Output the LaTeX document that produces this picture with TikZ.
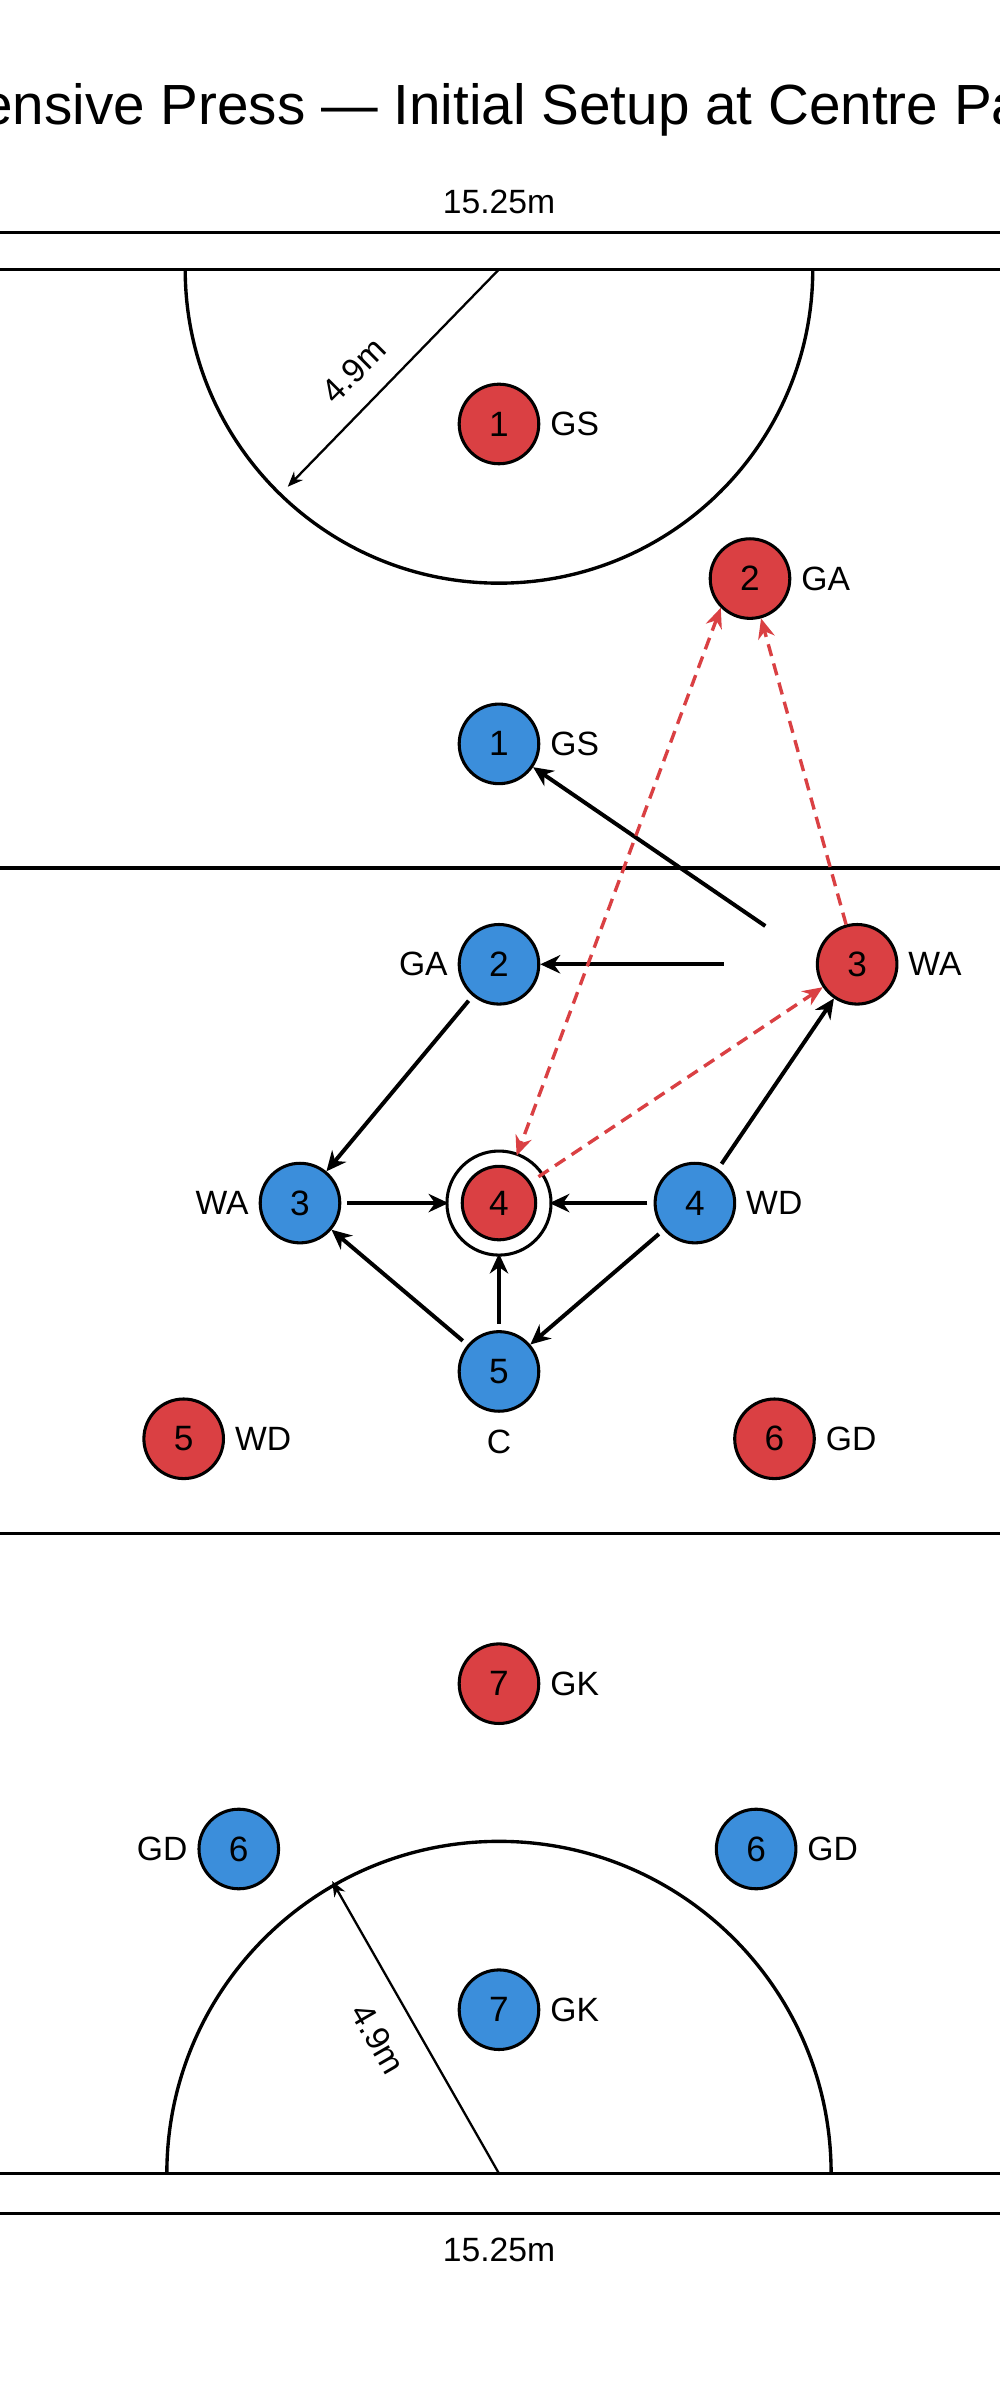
\documentclass[tikz,border=0pt]{standalone}
\usepackage{fontspec}
\setmainfont{Liberation Sans}
\usetikzlibrary{arrows.meta}
\definecolor{pred}{HTML}{DA4043}
\definecolor{pblue}{HTML}{3B8EDB}
\begin{document}
\begin{tikzpicture}[x=1pt,y=-1pt,
  line/.style={line width=2.2pt},
  pl/.style={circle,draw=black,line width=2pt,minimum size=52pt,inner sep=0pt,font=\fontsize{23}{25}\selectfont},
  R/.style={pl,fill=pred},
  B/.style={pl,fill=pblue},
  lab/.style={font=\fontsize{22}{24}\selectfont},
  arr/.style={line width=2.6pt,-{Stealth[length=13pt,width=12pt]}},
  rarr/.style={line width=2.2pt,pred,dash pattern=on 8pt off 5pt,-{Stealth[length=13pt,width=11pt]}}]
\useasboundingbox (0,0) rectangle (653,1568);
\fill[white] (0,0) rectangle (653,1568);
\node[font=\fontsize{37}{40}\selectfont] (title) at (318,72) {Defensive Press — Initial Setup at Centre Pass};
\node[lab] (wt) at (326,132) {15.25m};
\node[lab] (wb) at (326,1470) {15.25m};
\draw[line] (-5,152) -- (660,152);
\draw[line] (-5,176) -- (660,176);
\draw[line] (-5,567) -- (660,567);
\draw[line] (-5,1002) -- (660,1002);
\draw[line] (-5,1420) -- (660,1420);
\draw[line] (-5,1446) -- (660,1446);
\draw[line] (121,176) arc[start angle=180,end angle=360,x radius=205,y radius=-205];
\draw[line] (109,1420) arc[start angle=180,end angle=0,x radius=217,y radius=-217];
\coordinate (ct) at (326,176);
\coordinate (rt) at (188,318);
\draw[line width=1.5pt,-{Stealth[length=10pt,width=8pt]}] (ct) -- (rt);
\node[lab,rotate=45] (r1) at (231,242) {4.9m};
\coordinate (cb) at (326,1420);
\coordinate (rb) at (217,1229);
\draw[line width=1.5pt,-{Stealth[length=10pt,width=8pt]}] (cb) -- (rb);
\node[lab,rotate=-60] (r2) at (247,1332) {4.9m};
% players
\node[R] (r1p) at (326,277) {1}; \node[lab,anchor=west] at (356,277) {GS};
\node[R] (r2p) at (490,378) {2}; \node[lab,anchor=west] at (520,378) {GA};
\node[B] (b1) at (326,486) {1}; \node[lab,anchor=west] at (356,486) {GS};
\node[B] (b2) at (326,630) {2}; \node[lab,anchor=east] at (296,630) {GA};
\node[R] (r3) at (560,630) {3}; \node[lab,anchor=west] at (590,630) {WA};
\node[B] (b3) at (196,786) {3}; \node[lab,anchor=east] at (166,786) {WA};
\node[R,minimum size=48pt] (r4) at (326,786) {4};
\draw[line width=2pt] (r4) circle (34pt);
\node[B] (b4) at (454,786) {4}; \node[lab,anchor=west] at (484,786) {WD};
\node[B] (b5) at (326,896) {5}; \node[lab] at (326,942) {C};
\node[R] (r5) at (120,940) {5}; \node[lab,anchor=west] at (150,940) {WD};
\node[R] (r6) at (506,940) {6}; \node[lab,anchor=west] at (536,940) {GD};
\node[R] (r7) at (326,1100) {7}; \node[lab,anchor=west] at (356,1100) {GK};
\node[B] (b6a) at (156,1208) {6}; \node[lab,anchor=east] at (126,1208) {GD};
\node[B] (b6b) at (494,1208) {6}; \node[lab,anchor=west] at (524,1208) {GD};
\node[B] (b7) at (326,1313) {7}; \node[lab,anchor=west] at (356,1313) {GK};
% arrows
\coordinate (s1) at (500,605);
\coordinate (s2) at (473,630);
\draw[arr] (s1) -- (b1);
\draw[arr] (s2) -- (b2);
\draw[arr,shorten <=4pt] (b2) -- (b3);
\draw[arr,shorten <=4pt,shorten >=8pt] (b3) -- (r4);
\draw[arr,shorten <=4pt,shorten >=8pt] (b4) -- (r4);
\draw[arr,shorten <=4pt,shorten >=8pt] (b5) -- (r4);
\draw[arr,shorten <=4pt] (b5) -- (b3);
\draw[arr,shorten <=4pt] (b4) -- (b5);
\draw[arr,shorten <=4pt] (b4) -- (r3);
\draw[rarr,shorten <=6pt] (r4) -- (r3);
\draw[rarr] (r3) -- (r2p);
\draw[rarr,{Stealth[length=13pt,width=11pt]}-{Stealth[length=13pt,width=11pt]},shorten >=8pt] (r2p.south west) -- (r4);
\end{tikzpicture}
\end{document}
